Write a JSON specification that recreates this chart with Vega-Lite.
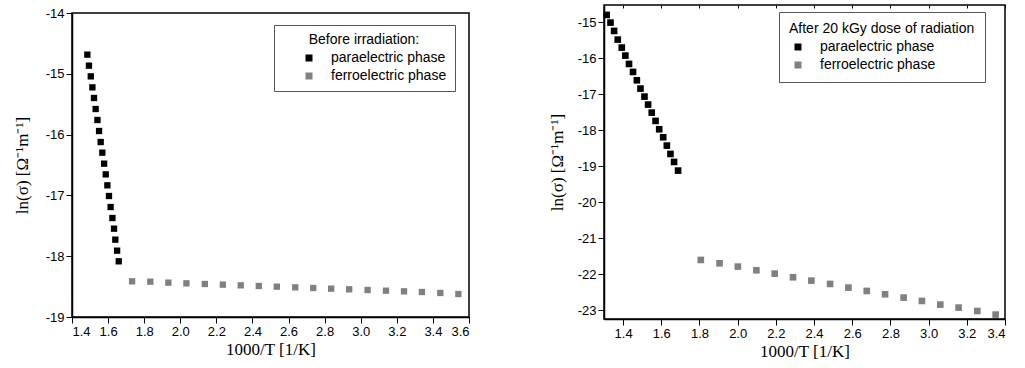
{
  "$schema": "https://vega.github.io/schema/vega-lite/v6.json",
  "padding": {"left": 12, "top": 3, "right": 5, "bottom": 3},
  "background": "white",
  "spacing": 76,
  "config": {
    "view": {"stroke": "black", "strokeWidth": 1.5},
    "axis": {"grid": false, "domainColor": "black", "domainWidth": 1.5, "tickColor": "black", "tickSize": 6, "tickWidth": 1,
      "labelFont": "Liberation Sans", "labelFontSize": 13, "labelColor": "black", "labelPadding": 2, "labelOverlap": false,
      "titleFont": "Liberation Serif", "titleFontSize": 17, "titleFontWeight": "normal", "titleColor": "black"},
    "legend": {"titleFont": "Liberation Sans", "titleFontSize": 14, "titleFontWeight": "normal", "titleColor": "black", "titleLimit": 400,
      "labelFont": "Liberation Sans", "labelFontSize": 14, "labelColor": "black", "labelLimit": 400, "strokeColor": "#555", "fillColor": "white",
      "symbolType": "square", "symbolSize": 49, "symbolStrokeWidth": 0, "rowPadding": 4, "titlePadding": 4, "labelOffset": 15}
  },
  "datasets": {
    "before": [
      {"x": 1.485, "y": -14.685, "phase": "paraelectric phase"},
      {"x": 1.494, "y": -14.866, "phase": "paraelectric phase"},
      {"x": 1.504, "y": -15.042, "phase": "paraelectric phase"},
      {"x": 1.513, "y": -15.223, "phase": "paraelectric phase"},
      {"x": 1.522, "y": -15.398, "phase": "paraelectric phase"},
      {"x": 1.531, "y": -15.579, "phase": "paraelectric phase"},
      {"x": 1.541, "y": -15.760, "phase": "paraelectric phase"},
      {"x": 1.550, "y": -15.941, "phase": "paraelectric phase"},
      {"x": 1.559, "y": -16.122, "phase": "paraelectric phase"},
      {"x": 1.568, "y": -16.297, "phase": "paraelectric phase"},
      {"x": 1.578, "y": -16.478, "phase": "paraelectric phase"},
      {"x": 1.587, "y": -16.654, "phase": "paraelectric phase"},
      {"x": 1.596, "y": -16.834, "phase": "paraelectric phase"},
      {"x": 1.605, "y": -17.010, "phase": "paraelectric phase"},
      {"x": 1.614, "y": -17.191, "phase": "paraelectric phase"},
      {"x": 1.624, "y": -17.372, "phase": "paraelectric phase"},
      {"x": 1.633, "y": -17.547, "phase": "paraelectric phase"},
      {"x": 1.640, "y": -17.728, "phase": "paraelectric phase"},
      {"x": 1.650, "y": -17.909, "phase": "paraelectric phase"},
      {"x": 1.659, "y": -18.084, "phase": "paraelectric phase"},
      {"x": 1.733, "y": -18.413, "phase": "ferroelectric phase"},
      {"x": 1.834, "y": -18.419, "phase": "ferroelectric phase"},
      {"x": 1.934, "y": -18.435, "phase": "ferroelectric phase"},
      {"x": 2.034, "y": -18.446, "phase": "ferroelectric phase"},
      {"x": 2.136, "y": -18.457, "phase": "ferroelectric phase"},
      {"x": 2.236, "y": -18.468, "phase": "ferroelectric phase"},
      {"x": 2.335, "y": -18.479, "phase": "ferroelectric phase"},
      {"x": 2.435, "y": -18.490, "phase": "ferroelectric phase"},
      {"x": 2.535, "y": -18.501, "phase": "ferroelectric phase"},
      {"x": 2.637, "y": -18.512, "phase": "ferroelectric phase"},
      {"x": 2.737, "y": -18.523, "phase": "ferroelectric phase"},
      {"x": 2.836, "y": -18.534, "phase": "ferroelectric phase"},
      {"x": 2.936, "y": -18.545, "phase": "ferroelectric phase"},
      {"x": 3.038, "y": -18.556, "phase": "ferroelectric phase"},
      {"x": 3.140, "y": -18.567, "phase": "ferroelectric phase"},
      {"x": 3.240, "y": -18.578, "phase": "ferroelectric phase"},
      {"x": 3.339, "y": -18.589, "phase": "ferroelectric phase"},
      {"x": 3.441, "y": -18.605, "phase": "ferroelectric phase"},
      {"x": 3.541, "y": -18.622, "phase": "ferroelectric phase"}
    ],
    "after": [
      {"x": 1.314, "y": -14.796, "phase": "paraelectric phase"},
      {"x": 1.334, "y": -15.009, "phase": "paraelectric phase"},
      {"x": 1.353, "y": -15.241, "phase": "paraelectric phase"},
      {"x": 1.372, "y": -15.482, "phase": "paraelectric phase"},
      {"x": 1.393, "y": -15.704, "phase": "paraelectric phase"},
      {"x": 1.412, "y": -15.927, "phase": "paraelectric phase"},
      {"x": 1.431, "y": -16.158, "phase": "paraelectric phase"},
      {"x": 1.452, "y": -16.381, "phase": "paraelectric phase"},
      {"x": 1.472, "y": -16.613, "phase": "paraelectric phase"},
      {"x": 1.491, "y": -16.844, "phase": "paraelectric phase"},
      {"x": 1.512, "y": -17.067, "phase": "paraelectric phase"},
      {"x": 1.531, "y": -17.289, "phase": "paraelectric phase"},
      {"x": 1.550, "y": -17.512, "phase": "paraelectric phase"},
      {"x": 1.570, "y": -17.743, "phase": "paraelectric phase"},
      {"x": 1.589, "y": -17.975, "phase": "paraelectric phase"},
      {"x": 1.610, "y": -18.197, "phase": "paraelectric phase"},
      {"x": 1.629, "y": -18.429, "phase": "paraelectric phase"},
      {"x": 1.648, "y": -18.661, "phase": "paraelectric phase"},
      {"x": 1.667, "y": -18.883, "phase": "paraelectric phase"},
      {"x": 1.688, "y": -19.124, "phase": "paraelectric phase"},
      {"x": 1.807, "y": -21.608, "phase": "ferroelectric phase"},
      {"x": 1.905, "y": -21.701, "phase": "ferroelectric phase"},
      {"x": 2.001, "y": -21.793, "phase": "ferroelectric phase"},
      {"x": 2.098, "y": -21.895, "phase": "ferroelectric phase"},
      {"x": 2.194, "y": -21.988, "phase": "ferroelectric phase"},
      {"x": 2.290, "y": -22.090, "phase": "ferroelectric phase"},
      {"x": 2.386, "y": -22.183, "phase": "ferroelectric phase"},
      {"x": 2.484, "y": -22.275, "phase": "ferroelectric phase"},
      {"x": 2.580, "y": -22.377, "phase": "ferroelectric phase"},
      {"x": 2.676, "y": -22.470, "phase": "ferroelectric phase"},
      {"x": 2.772, "y": -22.563, "phase": "ferroelectric phase"},
      {"x": 2.869, "y": -22.655, "phase": "ferroelectric phase"},
      {"x": 2.965, "y": -22.748, "phase": "ferroelectric phase"},
      {"x": 3.061, "y": -22.850, "phase": "ferroelectric phase"},
      {"x": 3.157, "y": -22.933, "phase": "ferroelectric phase"},
      {"x": 3.255, "y": -23.026, "phase": "ferroelectric phase"},
      {"x": 3.351, "y": -23.128, "phase": "ferroelectric phase"}
    ]
  },
  "hconcat": [
    {
      "spacing": 0,
      "vconcat": [
        {
          "width": 397,
          "height": 1,
          "view": {"stroke": null},
          "data": {"values": []},
          "mark": {"type": "point", "opacity": 0}
        },
        {
          "width": 397,
          "height": 304,
          "data": {"name": "before"},
          "mark": {"type": "square", "size": 40, "opacity": 1},
          "encoding": {
            "x": {"field": "x", "type": "quantitative",
              "scale": {"domain": [1.4, 3.6], "nice": false, "zero": false},
              "axis": {"values": [1.4, 1.6, 1.8, 2.0, 2.2, 2.4, 2.6, 2.8, 3.0, 3.2, 3.4, 3.6], "format": ".1f", "title": "1000/T [1/K]", "titlePadding": 3}},
            "y": {"field": "y", "type": "quantitative",
              "scale": {"domain": [-19, -14], "nice": false, "zero": false},
              "axis": {"values": [-19, -18, -17, -16, -15, -14], "labelExpr": "'' + datum.value", "title": "ln(σ) [Ω⁻¹m⁻¹]", "titlePadding": 14}},
            "color": {"field": "phase", "type": "nominal",
              "scale": {"domain": ["paraelectric phase", "ferroelectric phase"], "range": ["#000000", "#808080"]},
              "legend": {"title": "Before irradiation:", "orient": "none", "legendX": 202, "legendY": 20, "padding": 8, "symbolOffset": 20, "titleAnchor": "middle"}}
          }
        }
      ]
    },
    {
      "width": 401,
      "height": 314,
      "data": {"name": "after"},
      "layer": [
        {
          "mark": {"type": "square", "size": 44, "opacity": 1},
          "encoding": {
            "x": {"field": "x", "type": "quantitative",
              "scale": {"domain": [1.3, 3.4], "nice": false, "zero": false},
              "axis": {"values": [1.4, 1.6, 1.8, 2.0, 2.2, 2.4, 2.6, 2.8, 3.0, 3.2, 3.4], "format": ".1f", "title": "1000/T [1/K]", "titlePadding": 3}},
            "y": {"field": "y", "type": "quantitative",
              "scale": {"domain": [-23.25, -14.52], "nice": false, "zero": false},
              "axis": {"values": [-23, -22, -21, -20, -19, -18, -17, -16, -15], "labelExpr": "'' + datum.value", "labelOverlap": false, "title": "ln(σ) [Ω⁻¹m⁻¹]", "titlePadding": 11}},
            "color": {"field": "phase", "type": "nominal",
              "scale": {"domain": ["paraelectric phase", "ferroelectric phase"], "range": ["#000000", "#808080"]},
              "legend": {"title": "After 20 kGy dose of radiation", "orient": "none", "legendX": 175, "legendY": 7, "padding": 10, "symbolOffset": 2, "titleAnchor": "start"}}
          }
        },
        {
          "mark": {"type": "point", "opacity": 0},
          "encoding": {
            "x": {"field": "x", "type": "quantitative",
              "scale": {"domain": [1.3, 3.4], "nice": false, "zero": false},
              "axis": {"orient": "top", "values": [1.4, 1.6, 1.8, 2.0, 2.2, 2.4, 2.6, 2.8, 3.0, 3.2, 3.4], "labels": false, "title": null, "domain": false, "tickSize": -3}}
          }
        }
      ],
      "resolve": {"scale": {"x": "independent"}, "axis": {"x": "independent"}}
    }
  ],
  "resolve": {"scale": {"color": "independent", "x": "independent", "y": "independent"}, "legend": {"color": "independent"}}
}
